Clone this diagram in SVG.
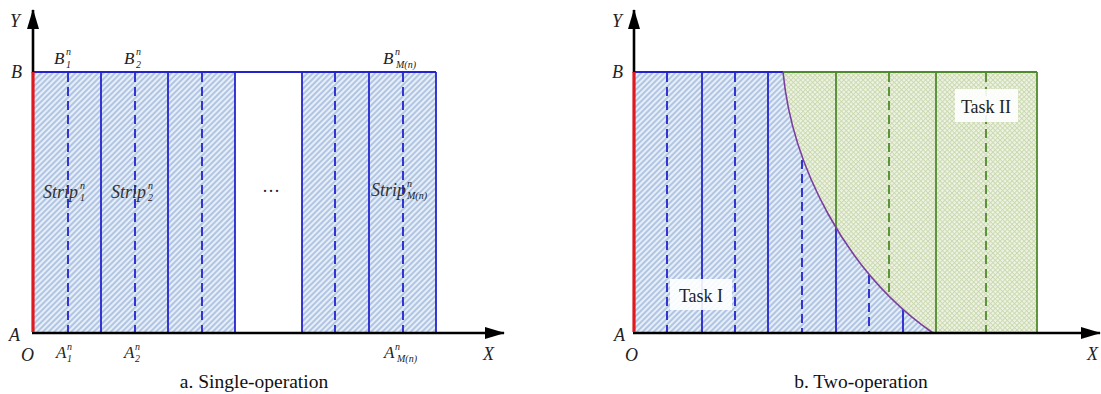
<svg xmlns="http://www.w3.org/2000/svg" width="1101" height="394" viewBox="0 0 1101 394">
<style>
.ax{stroke:#000;stroke-width:2.6;fill:none}
.red{stroke:#e0191f;stroke-width:3.2;fill:none}
.bs{stroke:#2323d0;stroke-width:1.8;fill:none}
.bd{stroke:#2323d0;stroke-width:1.8;fill:none;stroke-dasharray:9 5}
.gs{stroke:#4f8a2c;stroke-width:1.8;fill:none}
.gd{stroke:#4f8a2c;stroke-width:1.8;fill:none;stroke-dasharray:9 5}
.lab{font-family:"Liberation Serif","Times New Roman",serif;font-style:italic;font-size:18px;fill:#222}
.lb{font-family:"Liberation Serif","Times New Roman",serif;font-style:italic;font-size:17px;fill:#222}
.sm{font-family:"Liberation Serif","Times New Roman",serif;font-style:italic;font-size:10px;fill:#222}
.strip{font-family:"Liberation Serif","Times New Roman",serif;font-style:italic;font-size:18px;fill:#333}
.task{font-family:"Liberation Serif","Times New Roman",serif;font-size:18px;fill:#222}
.cap{font-family:"Liberation Serif","Times New Roman",serif;font-size:19.5px;fill:#111}
</style>
<defs>
<pattern id="hatch" patternUnits="userSpaceOnUse" width="4" height="4" patternTransform="rotate(45)">
<rect width="4" height="4" fill="#e6eff9"/>
<line x1="1" y1="0" x2="1" y2="4" stroke="#85a3cf" stroke-width="1.1"/>
</pattern>
<pattern id="cross" patternUnits="userSpaceOnUse" width="3.4" height="3.4" patternTransform="rotate(45)">
<rect width="3.4" height="3.4" fill="#eef3e3"/>
<line x1="0.5" y1="0" x2="0.5" y2="3.4" stroke="#c8d8ad" stroke-width="0.9"/>
<line x1="0" y1="0.5" x2="3.4" y2="0.5" stroke="#c8d8ad" stroke-width="0.9"/>
</pattern>
<marker id="arr" viewBox="0 0 20 12" refX="19" refY="6" markerWidth="20" markerHeight="12" markerUnits="userSpaceOnUse" orient="auto">
<path d="M0,0 L20,6 L0,12 Z" fill="#000"/>
</marker>
</defs>

<g id="panel-a">
<g id="a-strips">
<rect x="33" y="72" width="202" height="261" fill="url(#hatch)"/>
<rect x="302" y="72" width="134" height="261" fill="url(#hatch)"/>
<line class="bs" x1="33" y1="72" x2="436" y2="72"/>
<line class="bs" x1="101" y1="72" x2="101" y2="333"/>
<line class="bs" x1="168" y1="72" x2="168" y2="333"/>
<line class="bs" x1="235" y1="72" x2="235" y2="333"/>
<line class="bs" x1="302" y1="72" x2="302" y2="333"/>
<line class="bs" x1="369" y1="72" x2="369" y2="333"/>
<line class="bs" x1="436" y1="72" x2="436" y2="333"/>
<line class="bd" x1="68" y1="73" x2="68" y2="333"/>
<line class="bd" x1="135" y1="73" x2="135" y2="333"/>
<line class="bd" x1="202" y1="73" x2="202" y2="333"/>
<line class="bd" x1="335" y1="73" x2="335" y2="333"/>
<line class="bd" x1="403" y1="73" x2="403" y2="333"/>
</g>
<g id="a-axes">
<line class="ax" x1="33" y1="73" x2="33" y2="10" marker-end="url(#arr)"/>
<line class="ax" x1="32" y1="333" x2="504" y2="333" marker-end="url(#arr)"/>
<line class="red" x1="33" y1="72" x2="33" y2="332"/>
</g>
<g id="a-labels">
<text class="lab" x="10" y="27">Y</text>
<text class="lab" x="11" y="78">B</text>
<text class="lab" x="9" y="341">A</text>
<text class="lab" x="21" y="361">O</text>
<text class="lab" x="483" y="360">X</text>
<text class="lb" x="54" y="64">B</text><text class="sm" x="66" y="55">n</text><text class="sm" x="66" y="68" font-style="normal">1</text>
<text class="lb" x="124" y="64">B</text><text class="sm" x="136" y="55">n</text><text class="sm" x="136" y="68" font-style="normal">2</text>
<text class="lb" x="383" y="64">B</text><text class="sm" x="395" y="55">n</text><text class="sm" x="396" y="68">M(n)</text>
<text class="lb" x="56" y="358">A</text><text class="sm" x="67" y="350">n</text><text class="sm" x="67" y="362" font-style="normal">1</text>
<text class="lb" x="124" y="358">A</text><text class="sm" x="135" y="350">n</text><text class="sm" x="135" y="362" font-style="normal">2</text>
<text class="lb" x="384" y="358">A</text><text class="sm" x="395" y="350">n</text><text class="sm" x="397" y="362">M(n)</text>
<text class="strip" x="43" y="198">Strip</text><text class="sm" x="80" y="189">n</text><text class="sm" x="80" y="201" font-style="normal">1</text>
<text class="strip" x="111" y="198">Strip</text><text class="sm" x="148" y="189">n</text><text class="sm" x="148" y="201" font-style="normal">2</text>
<text class="strip" x="371" y="196">Strip</text><text class="sm" x="407" y="187">n</text><text class="sm" x="407" y="199">M(n)</text>
<text class="task" x="271" y="197" text-anchor="middle" font-size="15">···</text>
<text class="cap" x="254" y="388" text-anchor="middle">a. Single-operation</text>
</g>
</g>

<g id="panel-b">
<g id="b-regions">
<path d="M634,72 H783 C792,165 845,272 933,333 H634 Z" fill="url(#hatch)"/>
<path d="M783,72 H1037 V333 H933 C845,272 792,165 783,72 Z" fill="url(#cross)"/>
</g>
<g id="b-strips">
<line class="bs" x1="634" y1="72" x2="783" y2="72"/>
<line class="gs" x1="783" y1="72" x2="1037" y2="72"/>
<line class="bd" x1="667" y1="73" x2="667" y2="333"/>
<line class="bs" x1="702" y1="72" x2="702" y2="333"/>
<line class="bd" x1="735" y1="73" x2="735" y2="333"/>
<line class="bs" x1="768" y1="72" x2="768" y2="333"/>
<line class="bd" x1="802" y1="160" x2="802" y2="333"/>
<line class="gs" x1="836" y1="72" x2="836" y2="228"/>
<line class="bs" x1="836" y1="228" x2="836" y2="333"/>
<line class="bd" x1="869" y1="275" x2="869" y2="333"/>
<line class="gd" x1="889" y1="73" x2="889" y2="296"/>
<line class="bs" x1="903" y1="309" x2="903" y2="333"/>
<line class="gs" x1="936" y1="72" x2="936" y2="333"/>
<line class="gd" x1="986" y1="73" x2="986" y2="333"/>
<line class="gs" x1="1037" y1="72" x2="1037" y2="333"/>
<path d="M783,72 C792,165 845,272 933,333" fill="none" stroke="#7a3e9e" stroke-width="1.6"/>
</g>
<g id="b-axes">
<line class="ax" x1="634" y1="73" x2="634" y2="10" marker-end="url(#arr)"/>
<line class="ax" x1="633" y1="333" x2="1100" y2="333" marker-end="url(#arr)"/>
<line class="red" x1="634" y1="72" x2="634" y2="332"/>
</g>
<g id="task1">
<rect x="670" y="279" width="62" height="31" fill="#fff" fill-opacity="0.9"/>
<text class="task" x="701" y="302" text-anchor="middle">Task I</text>
</g>
<g id="task2">
<rect x="955" y="89" width="63" height="33" fill="#fff" fill-opacity="0.9"/>
<text class="task" x="986" y="113" text-anchor="middle">Task II</text>
</g>
<g id="b-labels">
<text class="lab" x="612" y="27">Y</text>
<text class="lab" x="612" y="78">B</text>
<text class="lab" x="614" y="341">A</text>
<text class="lab" x="625" y="361">O</text>
<text class="lab" x="1087" y="360">X</text>
<text class="cap" x="861" y="388" text-anchor="middle">b. Two-operation</text>
</g>
</g>
</svg>
